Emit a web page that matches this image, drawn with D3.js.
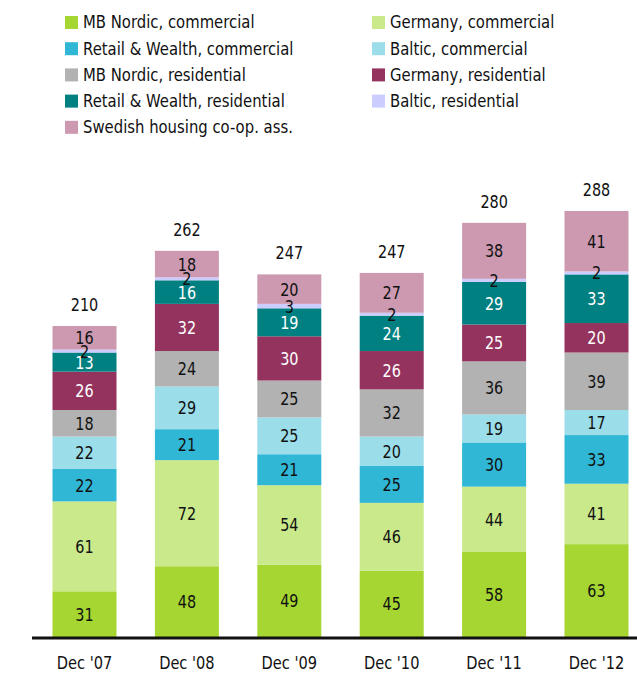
<!DOCTYPE html>
<html>
<head>
<meta charset="utf-8">
<script src="https://cdn.jsdelivr.net/npm/d3@7"></script>
<style>
  body { margin: 0; background: #fff; }
  text { font-family: "DejaVu Sans", sans-serif; }
</style>
</head>
<body>
<div id="chart"></div>
<script>
// chart data
const years = ["Dec '07", "Dec '08", "Dec '09", "Dec '10", "Dec '11", "Dec '12"];
const seriesNames = [
  "MB Nordic, commercial", "Germany, commercial",
  "Retail & Wealth, commercial", "Baltic, commercial",
  "MB Nordic, residential", "Germany, residential",
  "Retail & Wealth, residential", "Baltic, residential",
  "Swedish housing co-op. ass."
];
const mbNordicCom = [31, 48, 49, 45, 58, 63];
const germanyCom = [61, 72, 54, 46, 44, 41];
const retailCom = [22, 21, 21, 25, 30, 33];
const balticCom = [22, 29, 25, 20, 19, 17];
const mbNordicRes = [18, 24, 25, 32, 36, 39];
const germanyRes = [26, 32, 30, 26, 25, 20];
const retailRes = [13, 16, 19, 24, 29, 33];
const balticRes = [2, 2, 3, 2, 2, 2];
const swedishCoop = [16, 18, 20, 27, 38, 41];
const totals = [210, 262, 247, 247, 280, 288];

const colors = ["#a6d631", "#c9e98b", "#31b7d6", "#9bdde9", "#b2b2b2",
                "#94335e", "#008081", "#ccccff", "#cc99b0"];
const whiteText = [false, false, false, false, false, true, true, false, false];

const width = 637, height = 678;
const baseline = 637;

const svg = d3.select("#chart").append("svg")
    .attr("width", width)
    .attr("height", height);

const allSeries = [mbNordicCom, germanyCom, retailCom, balticCom, mbNordicRes,
                   germanyRes, retailRes, balticRes, swedishCoop];

// narrow the default font horizontally to look like the condensed original
function squeeze(px, py, sx) {
    return `translate(${px},${py}) scale(${sx},1)`;
}

// build rows for stacking
let rows = years.map(function(y, i) {
    let r = {year: y};
    seriesNames.forEach(function(s, j) { r[s] = allSeries[j][i]; });
    return r;
});

let stacked = d3.stack().keys(seriesNames)(rows);

let x = d3.scaleBand()
    .domain(years)
    .range([33.3, 647.7])
    .paddingInner(0.375)
    .paddingOuter(0.1875);

let y = d3.scaleLinear()
    .domain([0, 300])
    .range([baseline, baseline - 300 * 1.474]);

// segments
let layers = svg.selectAll("g.layer").data(stacked).enter()
    .append("g")
    .attr("class", "layer")
    .attr("fill", function(d, i) { return colors[i]; });

layers.selectAll("rect").data(function(d) { return d; }).enter()
    .append("rect")
    .attr("x", function(d) { return x(d.data.year); })
    .attr("y", function(d) { return y(d[1]); })
    .attr("width", x.bandwidth())
    .attr("height", function(d) { return y(d[0]) - y(d[1]); });

// segment labels
stacked.forEach(function(layer, i) {
    svg.append("g").selectAll("text").data(layer).enter()
        .append("text")
        .attr("transform", function(d) {
            return squeeze(x(d.data.year) + x.bandwidth() / 2, (y(d[0]) + y(d[1])) / 2, 0.8);
        })
        .attr("dy", "0.36em")
        .style("text-anchor", "middle")
        .style("font-size", "18px")
        .attr("fill", whiteText[i] ? "#fff" : "#111")
        .text(function(d) { return d[1] - d[0]; });
});

// totals
svg.append("g").selectAll("text").data(years).enter()
    .append("text")
    .attr("transform", function(d, i) {
        let top = d3.sum(allSeries, function(s) { return s[i]; });
        return squeeze(x(d) + x.bandwidth() / 2, y(top) - 15, 0.8);
    })
    .style("text-anchor", "middle")
    .style("font-size", "18px")
    .attr("fill", "#111")
    .text(function(d, i) { return totals[i]; });

// baseline axis
svg.append("line")
    .attr("x1", 32).attr("x2", width)
    .attr("y1", baseline + 1).attr("y2", baseline + 1)
    .attr("stroke", "#111")
    .attr("stroke-width", 3);

let xAxis = svg.append("g")
    .attr("transform", `translate(0, ${baseline})`)
    .call(d3.axisBottom(x).tickSize(0).tickPadding(20));
xAxis.select(".domain").remove();
xAxis.selectAll("text")
    .attr("transform", "scale(0.86,1)")
    .style("font-size", "17px")
    .style("font-family", "\"DejaVu Sans\", sans-serif")
    .attr("fill", "#111");

// legend
let legend = svg.append("g");
seriesNames.forEach(function(s, i) {
    let col = i === 8 ? 0 : i % 2;
    let row = Math.floor(i / 2);
    let lx = col === 0 ? 65 : 372;
    let ly = 22 + row * 26.2;
    legend.append("rect")
        .attr("x", lx).attr("y", ly - 6)
        .attr("width", 13).attr("height", 13)
        .attr("fill", colors[i]);
    legend.append("text")
        .attr("transform", squeeze(lx + 18, ly, 0.825))
        .attr("dy", "0.36em")
        .style("font-size", "18px")
        .attr("fill", "#111")
        .text(s);
});
</script>
</body>
</html>
